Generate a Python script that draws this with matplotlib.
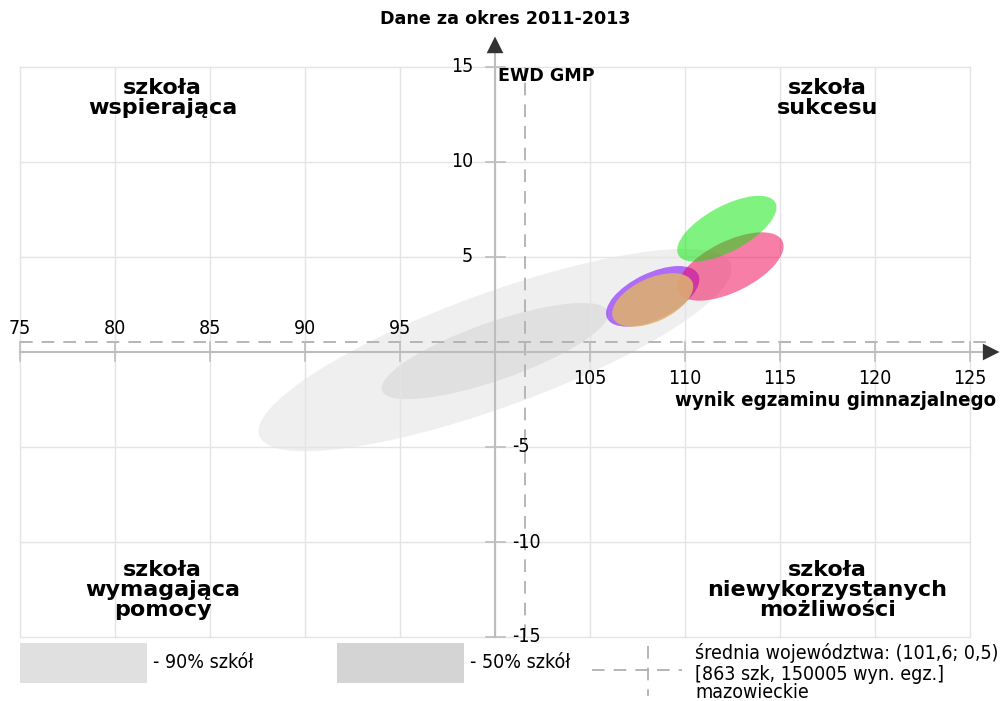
import matplotlib
matplotlib.use('Agg')
import matplotlib.pyplot as plt
from matplotlib.patches import Ellipse, Rectangle

# axis ranges / ticks
x_ticks = [75, 80, 85, 90, 95, 100, 105, 110, 115, 120, 125]
y_ticks = [-15, -10, -5, 0, 5, 10, 15]
origin = (100, 0)

# province mean
mean_x, mean_y = 101.6, 0.5

# grey reference ellipses: centre, width, height, angle
ref_names = ['90%', '50%']
ref_centers = [(100.0, 0.1), (100.0, 0.05)]
ref_widths = [26.4, 12.6]
ref_heights = [6.0, 3.05]
ref_angles = [20.0, 19.3]
ref_colors = ['#efefef', '#e0e0e0']
legend_colors = ['#e0e0e0', '#d4d4d4']

# school ellipses
sch_centers = [(108.3, 2.93), (112.4, 4.5), (108.3, 2.74), (112.2, 6.49)]
sch_widths = [5.32, 6.08, 4.58, 5.8]
sch_heights = [2.44, 2.66, 2.28, 2.38]
sch_angles = [25.7, 26.3, 24.7, 28.4]
sch_colors = ['#7a00ff', '#f00050', '#ddb070', '#00e600']
sch_alphas = [0.55, 0.5, 0.88, 0.5]

px = 19.0  # pixels per data unit
W, H = 1003, 701
fig = plt.figure(figsize=(W / 100, H / 100), dpi=100)
ax = fig.add_axes([0, 0, 1, 1])
ax.set_xlim(75 - 20 / px, 75 + (W - 20) / px)
ax.set_ylim(-(H - 352) / px, 352 / px)
ax.axis('off')

cond = dict(fontstretch='condensed')
fs = 14

# reference ellipses
for c, w, h, a, col in zip(ref_centers, ref_widths, ref_heights, ref_angles, ref_colors):
    ax.add_patch(Ellipse(c, w, h, angle=a, facecolor=col, edgecolor='none', zorder=1))

# grid
for xv in x_ticks:
    ax.plot([xv, xv], [y_ticks[0], y_ticks[-1]], color='#e4e4e4', lw=1, zorder=2)
for yv in y_ticks:
    if yv != 0:
        ax.plot([x_ticks[0], x_ticks[-1]], [yv, yv], color='#e4e4e4', lw=1, zorder=2)

# mean dashed lines
ax.plot([mean_x, mean_x], [y_ticks[0], y_ticks[-1]], color='#b0b0b0', lw=1.3,
        dashes=(7, 5), zorder=3)
ax.plot([x_ticks[0], x_ticks[-1] + 1], [mean_y, mean_y], color='#b0b0b0', lw=1.3,
        dashes=(7, 5), zorder=3)

# main axes with arrows
ax.plot([x_ticks[0], 126.0], [0, 0], color='#bdbdbd', lw=1.5, zorder=3)
ax.plot([origin[0], origin[0]], [y_ticks[0], 16.0], color='#bdbdbd', lw=1.5, zorder=3)
ax.annotate('', xy=(126.7, 0), xytext=(125.4, 0),
            arrowprops=dict(arrowstyle='-|>', color='#333333', mutation_scale=30, lw=0),
            zorder=4)
ax.annotate('', xy=(origin[0], 16.75), xytext=(origin[0], 15.4),
            arrowprops=dict(arrowstyle='-|>', color='#333333', mutation_scale=30, lw=0),
            zorder=4)

# ticks
tk = 9.5 / px
for xv in x_ticks:
    if xv == origin[0]:
        continue
    ax.plot([xv, xv], [-tk, tk], color='#bdbdbd', lw=1.2, zorder=3)
    if xv < origin[0]:
        ax.text(xv, 0.75, str(xv), ha='center', va='bottom', fontsize=fs, **cond)
    else:
        ax.text(xv, -0.9, str(xv), ha='center', va='top', fontsize=fs, **cond)
for yv in y_ticks:
    if yv == 0:
        continue
    ax.plot([origin[0] - tk, origin[0] + tk], [yv, yv], color='#bdbdbd', lw=1.2, zorder=3)
    if yv > 0:
        ax.text(origin[0] - 22 / px, yv, str(yv), ha='right', va='center', fontsize=fs, **cond)
    else:
        ax.text(origin[0] + 17 / px, yv, str(yv), ha='left', va='center', fontsize=fs, **cond)

# school ellipses
for c, w, h, a, col, al in zip(sch_centers, sch_widths, sch_heights, sch_angles,
                               sch_colors, sch_alphas):
    ax.add_patch(Ellipse(c, w, h, angle=a, facecolor=col, alpha=al, edgecolor='none', zorder=5))

# axis names and title
ax.text(origin[0] + 0.15, 14.5, 'EWD GMP', fontsize=12.6, fontweight='bold', ha='left', va='center')
ax.text(126.35, -2.55, 'wynik egzaminu gimnazjalnego', fontsize=14.6, fontweight='bold',
        ha='right', va='center', **cond)
fig.text(505 / W, 1 - 19 / H, 'Dane za okres 2011-2013', fontsize=12.6, fontweight='bold',
         ha='center', va='center')

# quadrant labels
qk = dict(fontsize=16, fontweight='bold', ha='center', va='center', linespacing=1.0)
ax.text(82.5, (352 - 98) / px, 'szkoła\nwspierająca', **qk)
ax.text(117.5, (352 - 98) / px, 'szkoła\nsukcesu', **qk)
ax.text(82.5, (352 - 590) / px, 'szkoła\nwymagająca\npomocy', **qk)
ax.text(117.5, (352 - 590) / px, 'szkoła\nniewykorzystanych\nmożliwości', **qk)

# legend
bw, bh = 127 / W, 40 / H
for i, (name, col) in enumerate(zip(ref_names, legend_colors)):
    x0 = (20 + i * 317) / W
    fig.add_artist(Rectangle((x0, 1 - 683 / H), bw, bh, transform=fig.transFigure,
                             facecolor=col, edgecolor='none'))
    fig.text(x0 + bw + 6 / W, 1 - 663 / H, '- ' + name + ' szkół', fontsize=fs,
             ha='left', va='center', **cond)

fig.add_artist(plt.Line2D([592 / W, 682 / W], [1 - 670 / H, 1 - 670 / H],
                          transform=fig.transFigure, color='#b0b0b0', lw=1.3, dashes=(7, 5)))
fig.add_artist(plt.Line2D([648 / W, 648 / W], [1 - 646 / H, 1 - 696 / H],
                          transform=fig.transFigure, color='#b0b0b0', lw=1.3, dashes=(7, 5)))
fig.text(695 / W, 1 - 653 / H, 'średnia województwa: (101,6; 0,5)', fontsize=fs,
         ha='left', va='center', **cond)
fig.text(695 / W, 1 - 674 / H, '[863 szk, 150005 wyn. egz.]', fontsize=fs,
         ha='left', va='center', **cond)
fig.text(695 / W, 1 - 693 / H, 'mazowieckie', fontsize=fs, ha='left', va='center', **cond)

fig.savefig('out.png', dpi=100)
